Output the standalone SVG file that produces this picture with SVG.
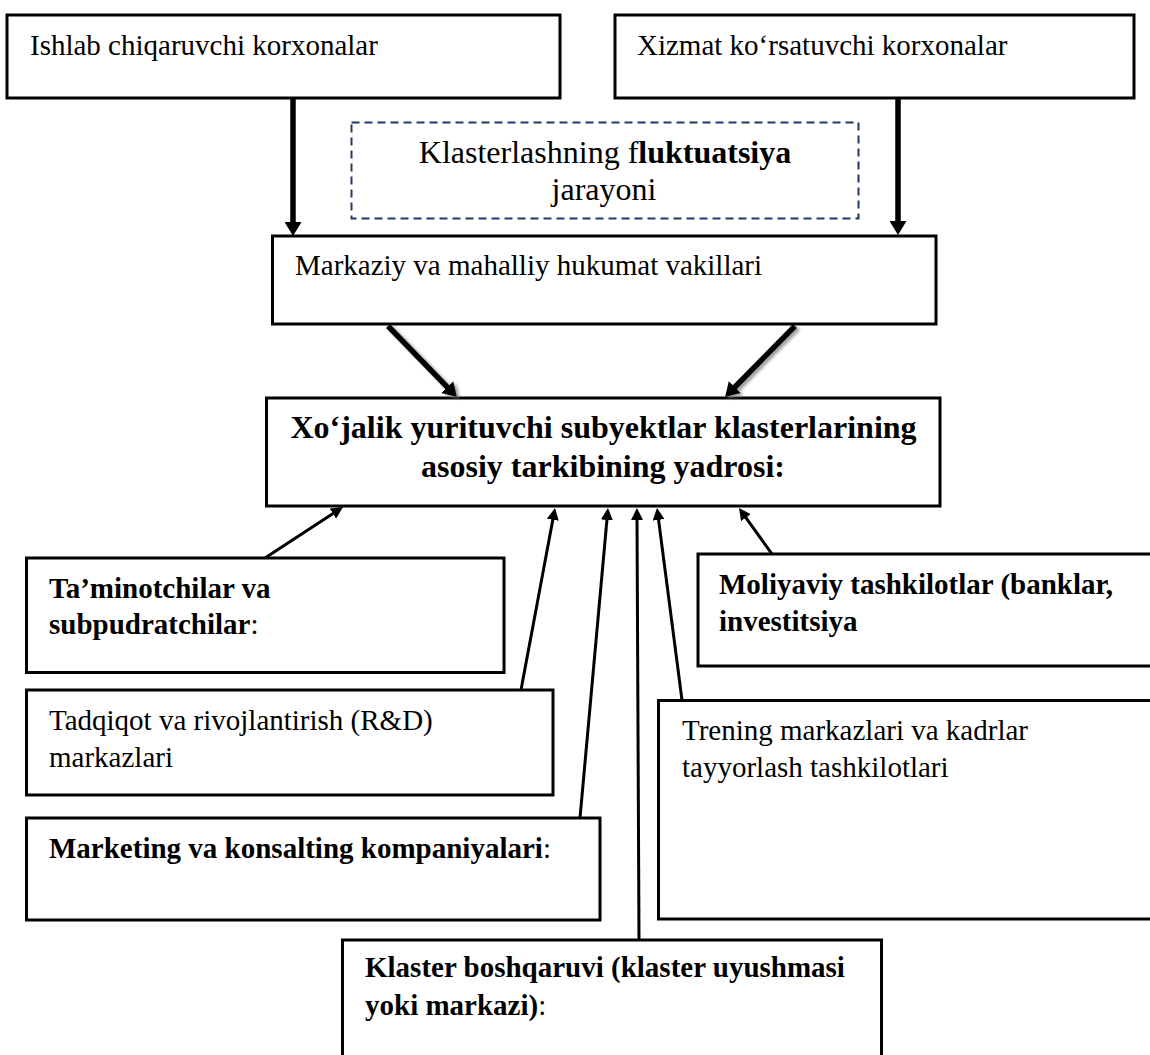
<svg xmlns="http://www.w3.org/2000/svg" width="1150" height="1055" viewBox="0 0 1150 1055">
<style>
.box{fill:#fff;stroke:#000;stroke-width:3}
.dash{fill:#fff;stroke:#1f3864;stroke-width:2;stroke-dasharray:8 5}
text{font-family:"Liberation Serif","Times New Roman",serif;font-size:29px;fill:#000}
.b{font-weight:bold}
.big{font-size:32px}
.thick{stroke:#000;stroke-width:5.5;fill:none}
.thin{stroke:#000;stroke-width:3;fill:none}
</style>
<defs>
<marker id="hk" markerUnits="userSpaceOnUse" markerWidth="15" markerHeight="17" refX="2" refY="8.5" orient="auto"><path d="M0,0 L14,8.5 L0,17 z" fill="#000"/></marker>
<marker id="hn" markerUnits="userSpaceOnUse" markerWidth="13" markerHeight="12" refX="2" refY="6" orient="auto"><path d="M0,0 L12,6 L0,12 z" fill="#000"/></marker>
<filter id="sh" x="-20%" y="-20%" width="140%" height="140%"><feDropShadow dx="3" dy="2" stdDeviation="1.5" flood-color="#777" flood-opacity="0.7"/></filter>
</defs>
<rect width="1150" height="1055" fill="#fff"/>
<g id="n-ishlab"><rect class="box" x="7" y="15" width="553" height="83"/><text x="30" y="55">Ishlab chiqaruvchi korxonalar</text></g>
<g id="n-xizmat"><rect class="box" x="615" y="15" width="519" height="83"/><text x="637" y="55">Xizmat ko‘rsatuvchi korxonalar</text></g>
<g id="n-fluktuatsiya"><rect class="dash" x="351.5" y="122.5" width="507" height="96"/><text class="big" x="605" y="163" text-anchor="middle">Klasterlashning f<tspan class="b">luktuatsiya</tspan></text><text class="big" x="604" y="200" text-anchor="middle">jarayoni</text></g>
<g id="n-markaziy"><rect class="box" x="272.5" y="236" width="663.5" height="88"/><text x="295" y="275">Markaziy va mahalliy hukumat vakillari</text></g>
<g id="n-core"><rect class="box" x="266.5" y="398" width="673.5" height="108"/><text class="b big" x="603.5" y="438" text-anchor="middle">Xo‘jalik yurituvchi subyektlar klasterlarining</text><text class="b big" x="603" y="477" text-anchor="middle">asosiy tarkibining yadrosi:</text></g>
<g id="n-taminot"><rect class="box" x="26.5" y="558" width="477.5" height="114.5"/><text class="b" x="49" y="598">Ta’minotchilar va</text><text x="49" y="634"><tspan class="b">subpudratchilar</tspan>:</text></g>
<g id="n-moliyaviy"><rect class="box" x="698" y="554" width="462" height="112"/><text class="b" x="719" y="594">Moliyaviy tashkilotlar (banklar,</text><text class="b" x="719" y="631">investitsiya</text></g>
<g id="n-tadqiqot"><rect class="box" x="26.5" y="690" width="526.5" height="105"/><text x="49" y="730">Tadqiqot va rivojlantirish (R&amp;D)</text><text x="49" y="767">markazlari</text></g>
<g id="n-trening"><rect class="box" x="658.5" y="700.5" width="502" height="218.5"/><text x="682" y="740">Trening markazlari va kadrlar</text><text x="682" y="777">tayyorlash tashkilotlari</text></g>
<g id="n-marketing"><rect class="box" x="26.5" y="818" width="573.5" height="102"/><text x="49" y="858"><tspan class="b">Marketing va konsalting kompaniyalari</tspan>:</text></g>
<g id="n-klaster"><rect class="box" x="342.5" y="940" width="539" height="130"/><text class="b" x="365" y="977">Klaster boshqaruvi (klaster uyushmasi</text><text x="365" y="1015"><tspan class="b">yoki markazi)</tspan>:</text></g>
<g id="connectors">
<line class="thick" x1="293" y1="99" x2="293" y2="224" marker-end="url(#hk)"/>
<line class="thick" x1="898" y1="99" x2="898" y2="223" marker-end="url(#hk)"/>
<line class="thick" x1="388" y1="326" x2="448.6" y2="388.5" marker-end="url(#hk)" filter="url(#sh)"/>
<line class="thick" x1="795" y1="326" x2="733.5" y2="388.5" marker-end="url(#hk)" filter="url(#sh)"/>
<line class="thin" x1="265" y1="558" x2="334.6" y2="512.5" marker-end="url(#hn)"/>
<line class="thin" x1="521" y1="690" x2="553.2" y2="517.8" marker-end="url(#hn)"/>
<line class="thin" x1="580" y1="818" x2="607.1" y2="518" marker-end="url(#hn)"/>
<line class="thin" x1="639" y1="940" x2="637" y2="518" marker-end="url(#hn)"/>
<line class="thin" x1="682" y1="700" x2="658.3" y2="517.9" marker-end="url(#hn)"/>
<line class="thin" x1="772" y1="554" x2="744.8" y2="516.1" marker-end="url(#hn)"/>
</g>
</svg>
